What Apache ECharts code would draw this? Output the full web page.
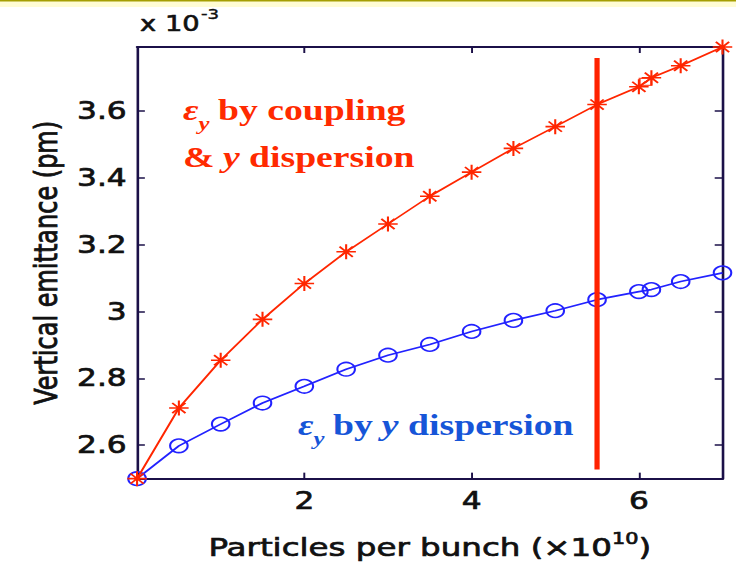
<!DOCTYPE html>
<html>
<head>
<meta charset="utf-8">
<script src="https://cdn.jsdelivr.net/npm/echarts@6/dist/echarts.min.js"></script>
<style>
  html, body { margin: 0; padding: 0; background: #ffffff; overflow: hidden; }
  /* the figure is laid out narrow and stretched horizontally, like the original plot */
  #chart { width: 566px; height: 565px; transform: scaleX(1.3004); transform-origin: 0 0; }
</style>
</head>
<body>
<div id="chart"></div>
<script>
// Bunch population (x 10^10)
const particles = [0, 0.5, 1, 1.5, 2, 2.5, 3, 3.5, 4, 4.5, 5, 5.5, 6, 6.15, 6.5, 7];
// Vertical emittance (x 10^-3 pm) from coupling and vertical dispersion
const emitCouplingDisp = [2.5, 2.711, 2.854, 2.976, 3.083, 3.178, 3.261, 3.344, 3.416, 3.487, 3.552, 3.618, 3.671, 3.698, 3.734, 3.79];
// Vertical emittance (x 10^-3 pm) from vertical dispersion only
const emitDisp = [2.5, 2.598, 2.663, 2.726, 2.776, 2.827, 2.869, 2.901, 2.940, 2.973, 3.002, 3.035, 3.059, 3.065, 3.089, 3.115];
// Nominal bunch population marker
const nominalX = [5.5, 5.5];
const nominalY = [2.527, 3.757];
// Small square marker on the coupling curve
const squareX = [6.08];
const squareY = [3.686];
// Tick positions
const xTicks = [2, 4, 6];
const yTicks = [2.6, 2.8, 3.0, 3.2, 3.4, 3.6];

const AXIS_COLOR = '#1b1048';
const TEXT_COLOR = '#111111';
const SANS = '"DejaVu Sans", sans-serif';
const SERIF = '"Liberation Serif", "Times New Roman", serif';
const RED = '#ff2600';
const BLUE = '#2222ff';
const NOTE_RED = '#ff2a00';
const NOTE_BLUE = '#1655d8';

const pairs = (xs, ys) => xs.map((x, i) => [x, ys[i]]);

// slightly heavier sans text for the axis labels
const sansText = (size) => ({
  fontFamily: SANS, fontSize: size, color: TEXT_COLOR,
  textBorderColor: TEXT_COLOR, textBorderWidth: 0.7
});

function frameAxis(extra) {
  return Object.assign({
    type: 'value',
    axisLine: { show: true, onZero: false, lineStyle: { color: AXIS_COLOR, width: 2 } },
    axisTick: { show: true, inside: true, length: 6, lineStyle: { color: AXIS_COLOR, width: 1.5 } },
    splitLine: { show: false },
    axisLabel: { show: false }
  }, extra);
}

// epsilon with a subscript y, as one rich text
function epsY(x, y, color) {
  return {
    type: 'text', x: x, y: y,
    style: {
      text: '{e|ε}{s|y}',
      verticalAlign: 'middle',
      rich: {
        e: { font: 'italic bold 29px ' + SERIF, fill: color },
        s: { font: 'italic bold 19px ' + SERIF, fill: color, padding: [27, 0, 0, 0] }
      }
    }
  };
}

function note(x, y, text, color, italic) {
  return {
    type: 'text', x: x, y: y,
    style: { text: text, font: (italic ? 'italic ' : '') + 'bold 29px ' + SERIF, fill: color, verticalAlign: 'middle' }
  };
}

const option = {
  backgroundColor: '#ffffff',
  animation: false,
  grid: { left: 105.4, right: 10.4, top: 47, bottom: 84 },
  xAxis: [
    frameAxis({
      position: 'bottom', min: 0, max: 7,
      axisTick: { show: true, inside: true, length: 6, customValues: xTicks, lineStyle: { color: AXIS_COLOR, width: 1.5 } },
      axisLabel: Object.assign({ show: true, customValues: xTicks, margin: 10 }, sansText(24)),
      name: '{a|Particles per bunch (×10}{s|10}{a|)}',
      nameLocation: 'middle', nameGap: 52,
      nameTextStyle: {
        rich: {
          a: sansText(25),
          s: Object.assign(sansText(16), { padding: [0, 0, 17, 0] })
        }
      }
    }),
    frameAxis({
      position: 'top', min: 0, max: 7,
      axisTick: { show: true, inside: true, length: 6, customValues: xTicks, lineStyle: { color: AXIS_COLOR, width: 1.5 } }
    })
  ],
  yAxis: [
    frameAxis({
      position: 'left', min: 2.5, max: 3.79,
      axisTick: { show: true, inside: true, length: 6, customValues: yTicks, lineStyle: { color: AXIS_COLOR, width: 1.5 } },
      axisLabel: Object.assign({
        show: true, customValues: yTicks, margin: 8,
        formatter: v => (Math.abs(v - 3) < 1e-9 ? '3' : v.toFixed(1))
      }, sansText(24)),
      name: 'Vertical emittance (pm)',
      nameLocation: 'middle', nameGap: 57,
      nameTextStyle: sansText(24)
    }),
    frameAxis({
      position: 'right', min: 2.5, max: 3.79,
      axisTick: { show: true, inside: true, length: 6, customValues: yTicks, lineStyle: { color: AXIS_COLOR, width: 1.5 } }
    })
  ],
  series: [
    {
      type: 'line',
      xAxisIndex: 0, yAxisIndex: 0,
      data: pairs(particles, emitDisp),
      clip: false,
      symbol: 'circle',
      symbolSize: 13.5,
      showAllSymbol: true,
      lineStyle: { color: BLUE, width: 1.6 },
      itemStyle: { color: 'rgba(0,0,0,0)', borderColor: BLUE, borderWidth: 1.6 },
      z: 3
    },
    {
      type: 'line',
      xAxisIndex: 0, yAxisIndex: 0,
      data: pairs(particles, emitCouplingDisp),
      clip: false,
      symbol: 'path://M0,5L10,5M5,0L5,10M1.6,1.6L8.4,8.4M8.4,1.6L1.6,8.4',
      symbolSize: 15,
      showAllSymbol: true,
      lineStyle: { color: RED, width: 1.6 },
      itemStyle: { color: 'rgba(0,0,0,0)', borderColor: RED, borderWidth: 1.6 },
      z: 4
    },
    {
      type: 'scatter',
      xAxisIndex: 0, yAxisIndex: 0,
      data: pairs(squareX, squareY),
      symbol: 'rect',
      symbolSize: [9, 7],
      itemStyle: { color: 'rgba(0,0,0,0)', borderColor: RED, borderWidth: 1.4 },
      z: 4
    },
    {
      type: 'line',
      xAxisIndex: 0, yAxisIndex: 0,
      data: pairs(nominalX, nominalY),
      symbol: 'none',
      lineStyle: { color: '#ff2200', width: 4 },
      z: 5
    }
  ],
  graphic: [
    // header strip
    { type: 'rect', left: 0, top: 0, shape: { width: 566, height: 7 }, style: { fill: '#fffcd4' }, z: 0 },
    { type: 'rect', left: 0, top: 0, shape: { width: 566, height: 1.5 }, style: { fill: '#a59e00' }, z: 0 },
    // axis multiplier with its exponent
    {
      type: 'text', x: 107.7, y: 24,
      style: {
        text: '{a|x 10}{s|-3}',
        verticalAlign: 'middle',
        rich: {
          a: { font: '21px ' + SANS, fill: TEXT_COLOR, stroke: TEXT_COLOR, lineWidth: 0.6 },
          s: { font: '14px ' + SANS, fill: TEXT_COLOR, stroke: TEXT_COLOR, lineWidth: 0.4, padding: [0, 0, 20, 1] }
        }
      }
    },
    // coupling + dispersion annotation
    epsY(140.7, 110.2, NOTE_RED),
    note(167.6, 110.2, 'by coupling', NOTE_RED, false),
    note(140.7, 157.2, '&', NOTE_RED, false),
    note(171.5, 157.2, 'y', NOTE_RED, true),
    note(191.5, 157.2, 'dispersion', NOTE_RED, false),
    // dispersion-only annotation
    epsY(229.2, 425.2, NOTE_BLUE),
    note(256.1, 425.2, 'by', NOTE_BLUE, false),
    note(293.5, 425.2, 'y', NOTE_BLUE, true),
    note(313.8, 425.2, 'dispersion', NOTE_BLUE, false)
  ]
};

const chart = echarts.init(document.getElementById('chart'), null, { renderer: 'svg' });
chart.setOption(option);
</script>
</body>
</html>
